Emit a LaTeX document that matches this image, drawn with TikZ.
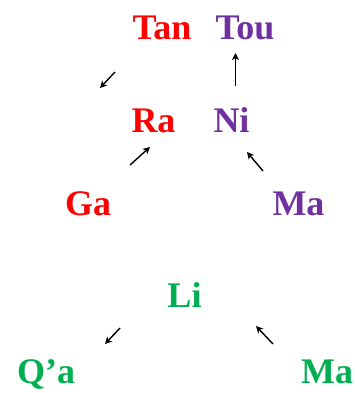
\documentclass[tikz,border=0pt]{standalone}
\usepackage{fontspec}
\setmainfont{Liberation Serif}
\usetikzlibrary{arrows.meta}
\definecolor{wred}{RGB}{255,0,0}
\definecolor{wpurple}{RGB}{112,48,160}
\definecolor{wgreen}{RGB}{0,176,80}

\begin{document}
\begin{tikzpicture}[x=1pt,y=1pt,
  word/.style={anchor=base,inner sep=0pt,font=\fontsize{36}{40}\selectfont\bfseries},
  link/.style={-{Stealth[length=7pt,width=7pt,inset=2pt]},line width=1.4pt,black}]
\useasboundingbox (0,0) rectangle (355,-393);
% top row
\node[word,text=wred] (tan) at (162,-40) {Tan};
\node[word,text=wpurple] (tou) at (245,-40) {Tou};
\node[word,text=wred] (ra) at (153.5,-132) {Ra};
\node[word,text=wpurple] (ni) at (231.5,-132) {Ni};
\node[word,text=wred] (ga) at (88,-215) {Ga};
\node[word,text=wpurple] (mapurple) at (298.5,-215) {Ma};
% bottom group
\node[word,text=wgreen] (li) at (184.5,-307) {Li};
\node[word,text=wgreen] (qa) at (46,-383) {Q’a};
\node[word,text=wgreen] (magreen) at (327,-383) {Ma};
% arrow ends
\coordinate (a1s) at (115,-72);  \coordinate (a1e) at (100,-88);
\coordinate (a2s) at (235.5,-86); \coordinate (a2e) at (235.5,-53);
\coordinate (a3s) at (130,-165); \coordinate (a3e) at (150,-147);
\coordinate (a4s) at (263,-171); \coordinate (a4e) at (247,-152);
\coordinate (a5s) at (120,-328); \coordinate (a5e) at (105,-344);
\coordinate (a6s) at (273,-344); \coordinate (a6e) at (256,-326);
\draw[link] (a1s) -- (a1e);
\draw[link] (a2s) -- (a2e);
\draw[link] (a3s) -- (a3e);
\draw[link] (a4s) -- (a4e);
\draw[link] (a5s) -- (a5e);
\draw[link] (a6s) -- (a6e);
\end{tikzpicture}
\end{document}
